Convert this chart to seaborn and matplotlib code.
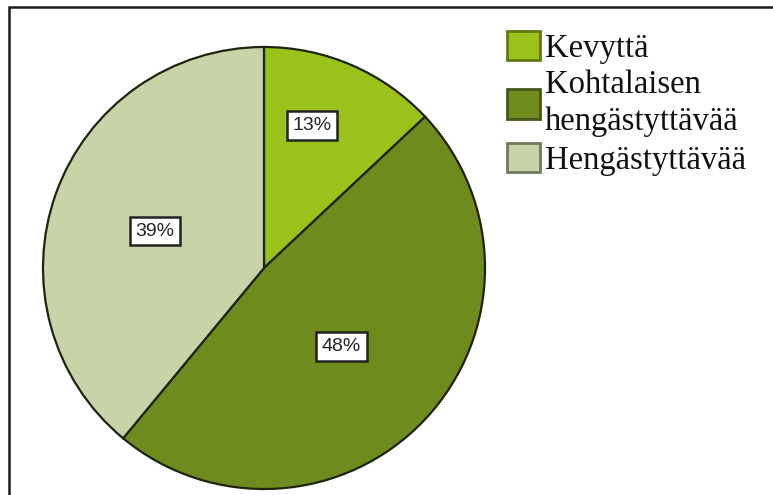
import numpy as np
import matplotlib
matplotlib.use("Agg")
import matplotlib.pyplot as plt
from matplotlib.patches import Patch, Rectangle
from matplotlib.font_manager import FontProperties
import seaborn as sns

# Breathing intensity shares
categories = ["Kevyttä", "Kohtalaisen\nhengästyttävää", "Hengästyttävää"]
shares = [13, 48, 39]
colors = ["#99c31a", "#6e8c1e", "#c8d4a8"]
legend_edges = ["#5f7a10", "#44581a", "#6f7a5c"]
# percentage label placement: radial fraction and angular nudge (degrees)
label_radius = [0.68, 0.50, 0.52]
label_nudge = [4.8, -2.2, 1.1]

sns.set_theme(style="white")
plt.rcParams["font.family"] = ["Liberation Sans", "DejaVu Sans"]

fig = plt.figure(figsize=(7.73, 4.95), dpi=100)
fig.patch.set_facecolor("white")

ax = fig.add_axes([43 / 773, 6 / 495, 442 / 773, 442 / 495])
wedges, _, autotexts = ax.pie(
    shares,
    colors=colors,
    startangle=90,
    counterclock=False,
    radius=1.0,
    autopct=lambda p: f"{p:.0f}%",
    wedgeprops=dict(edgecolor="#1e2410", linewidth=1.6),
    textprops=dict(fontsize=14, color="#222222", family="Liberation Sans"),
)
ax.set_xlim(-1.0, 1.0)
ax.set_ylim(-1.0, 1.0)
ax.set_aspect("equal")
ax.axis("off")

for w, t, r, d in zip(wedges, autotexts, label_radius, label_nudge):
    mid = np.deg2rad((w.theta1 + w.theta2) / 2 + d)
    t.set_position((r * np.cos(mid), r * np.sin(mid)))
    t.set_ha("center")
    t.set_va("center")
    t.set_bbox(dict(boxstyle="square,pad=0.3", facecolor="white",
                    edgecolor="#222222", linewidth=1.8))

handles = [Patch(facecolor=c, edgecolor=e, linewidth=2.0)
           for c, e in zip(colors, legend_edges)]
legend_font = FontProperties(family=["Liberation Serif"], size=23.5)
leg = fig.legend(
    handles, categories,
    loc="upper left",
    bbox_to_anchor=(507 / 773, 1 - 31 / 495),
    bbox_transform=fig.transFigure,
    frameon=False,
    prop=legend_font,
    handlelength=1.0,
    handleheight=1.0,
    handletextpad=0.15,
    labelspacing=0.17,
    borderpad=0,
    borderaxespad=0,
)
for txt in leg.get_texts():
    txt.set_color("#111111")
    txt.set_linespacing(1.3)

# Outer frame line along the left and top
fig.add_artist(Rectangle((8.5 / 773, -0.2), 1.5, 1.2 - 7 / 495,
                         transform=fig.transFigure, fill=False,
                         edgecolor="#1a1a1a", linewidth=1.8))

fig.savefig("out.png", dpi=100, facecolor="white")
